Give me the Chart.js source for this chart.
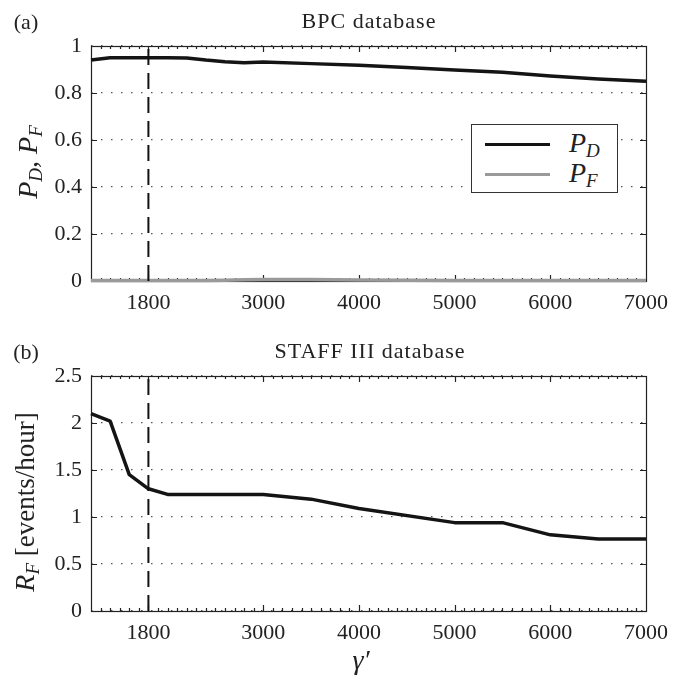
<!DOCTYPE html>
<html>
<head>
<meta charset="utf-8">
<script src="https://cdn.jsdelivr.net/npm/chart.js@4.4.1/dist/chart.umd.min.js"></script>
<style>
  body { margin: 0; background: #fff; }
  #wrap { position: relative; width: 686px; height: 680px; font-family: "Liberation Serif", serif; color: #222; }
  canvas { position: absolute; left: 0; }
  .t { position: absolute; transform: translate(-50%, -50%); white-space: nowrap; }
  .rot { transform: translate(-50%, -50%) rotate(-90deg); }
  .panel { font-size: 22px; }
  .titulo { font-size: 22px; letter-spacing: 1px; }
  .m { font-style: italic; font-size: 28px; }
  .m sub { font-size: 19px; vertical-align: -5px; }
  #legenda { position: absolute; left: 471px; top: 124px; width: 147px; height: 69px; border: 1px solid #333; background: #fff; box-sizing: border-box; }
  .item { position: absolute; left: 13px; height: 30px; display: flex; align-items: center; }
  .amostra { width: 65px; height: 3px; margin-right: 19px; }
</style>
</head>
<body>
<div id="wrap">
  <canvas id="grafico-a" width="686" height="330" style="top:0"></canvas>
  <canvas id="grafico-b" width="686" height="350" style="top:330px"></canvas>

  <div class="t panel" style="left:26px; top:22px">(a)</div>
  <div class="t titulo" style="left:369px; top:21px">BPC database</div>
  <div class="t rot m" style="left:29px; top:162px"><i>P</i><sub>D</sub>, <i>P</i><sub>F</sub></div>

  <div class="t panel" style="left:26px; top:352px">(b)</div>
  <div class="t titulo" style="left:370px; top:351px">STAFF III database</div>
  <div class="t rot" style="left:26px; top:502px; font-size:27px"><span class="m"><i>R</i><sub>F</sub></span> [events/hour]</div>

  <div class="t m" style="left:361px; top:660px">γ′</div>

  <div id="legenda"></div>
</div>

<script>
// limites do eixo x e ticks
const limiteX = [1200, 7000];
const ticksX = [1800, 3000, 4000, 5000, 6000, 7000];
const limiarGama = 1800;

// painel (a) - BPC
const gamaA = [1200, 1400, 1600, 1800, 2000, 2200, 2400, 2600, 2800, 3000, 3500, 4000, 4500, 5000, 5500, 6000, 6500, 7000];
const valoresPD = [0.940, 0.950, 0.950, 0.950, 0.950, 0.949, 0.940, 0.933, 0.929, 0.932, 0.925, 0.918, 0.908, 0.898, 0.888, 0.872, 0.860, 0.850];
const valoresPF = [0.002, 0.002, 0.002, 0.002, 0.002, 0.002, 0.002, 0.003, 0.005, 0.006, 0.006, 0.004, 0.003, 0.002, 0.002, 0.002, 0.002, 0.002];
const ticksYA = [0, 0.2, 0.4, 0.6, 0.8, 1];
const rotulosYA = ['0', '0.2', '0.4', '0.6', '0.8', '1'];

// painel (b) - STAFF III
const gamaB = [1200, 1400, 1600, 1800, 2000, 3000, 3500, 4000, 5000, 5500, 6000, 6500, 7000];
const valoresRF = [2.10, 2.02, 1.45, 1.30, 1.24, 1.24, 1.19, 1.09, 0.94, 0.94, 0.81, 0.765, 0.765];
const ticksYB = [0, 0.5, 1, 1.5, 2, 2.5];
const rotulosYB = ['0', '0.5', '1', '1.5', '2', '2.5'];

const corPD = '#141414';
const corPF = '#9a9a9a';

Chart.defaults.font.family = '"Liberation Serif", serif';
Chart.defaults.font.size = 22;
Chart.defaults.color = '#222';

const pontos = (xs, ys) => xs.map((x, i) => ({ x, y: ys[i] }));

// moldura com ticks internos (maiores e menores)
const moldura = {
  id: 'moldura',
  beforeDatasetsDraw(chart) {
    const { ctx, chartArea: a, scales: { x, y } } = chart;
    ctx.save();
    ctx.strokeStyle = '#222';
    ctx.lineWidth = 1.2;
    ctx.strokeRect(Math.round(a.left) + 0.5, Math.round(a.top) + 0.5, Math.round(a.right - a.left), Math.round(a.bottom - a.top));
    ctx.beginPath();
    for (let v = limiteX[0] + 100; v < limiteX[1]; v += 100) {
      const px = Math.round(x.getPixelForValue(v)) + 0.5;
      const len = ticksX.includes(v) ? 6 : 3;
      ctx.moveTo(px, a.bottom); ctx.lineTo(px, a.bottom - len);
      ctx.moveTo(px, a.top); ctx.lineTo(px, a.top + len);
    }
    y.ticks.forEach(t => {
      const py = Math.round(y.getPixelForValue(t.value)) + 0.5;
      ctx.moveTo(a.left, py); ctx.lineTo(a.left + 6, py);
      ctx.moveTo(a.right, py); ctx.lineTo(a.right - 6, py);
    });
    ctx.stroke();
    ctx.restore();
  }
};

function opcoes(ticksY, rotulosY, maxY, baixo) {
  return {
    responsive: false,
    animation: false,
    layout: { padding: { left: 0, right: 40, top: 46, bottom: baixo } },
    plugins: { legend: { display: false }, tooltip: { enabled: false } },
    elements: { point: { radius: 0 }, line: { tension: 0, borderCapStyle: 'butt', borderJoinStyle: 'round' } },
    scales: {
      x: {
        type: 'linear', min: limiteX[0], max: limiteX[1],
        grid: { display: false },
        border: { display: false },
        ticks: { padding: 1, maxRotation: 0, autoSkip: false, callback: v => String(v) },
        afterBuildTicks: s => { s.ticks = ticksX.map(v => ({ value: v })); },
        afterFit: s => { s.height = 49; }
      },
      y: {
        min: 0, max: maxY,
        grid: { color: '#555', lineWidth: 1.2, drawTicks: false },
        border: { display: false, dash: [1.5, 8.5] },
        ticks: { padding: 9, callback: v => rotulosY[ticksY.indexOf(v)] },
        afterBuildTicks: s => { s.ticks = ticksY.map(v => ({ value: v })); },
        afterFit: s => { s.width = 91; }
      }
    }
  };
}

new Chart(document.getElementById('grafico-a'), {
  type: 'line',
  plugins: [moldura],
  data: {
    datasets: [
      { label: 'limiar', data: pontos([limiarGama, limiarGama], [0, 1]), borderColor: '#111', borderWidth: 2, borderDash: [16, 8], clip: false },
      { label: 'PF', data: pontos(gamaA, valoresPF), borderColor: corPF, borderWidth: 3.5, clip: false },
      { label: 'PD', data: pontos(gamaA, valoresPD), borderColor: corPD, borderWidth: 3.5, clip: false }
    ]
  },
  options: opcoes(ticksYA, rotulosYA, 1, 0)
});

new Chart(document.getElementById('grafico-b'), {
  type: 'line',
  plugins: [moldura],
  data: {
    datasets: [
      { label: 'limiar', data: pontos([limiarGama, limiarGama], [0, 2.5]), borderColor: '#111', borderWidth: 2, borderDash: [16, 8], clip: false },
      { label: 'RF', data: pontos(gamaB, valoresRF), borderColor: corPD, borderWidth: 3.5, clip: false }
    ]
  },
  options: opcoes(ticksYB, rotulosYB, 2.5, 20)
});

// legenda do painel (a)
const legenda = document.getElementById('legenda');
[['D', corPD, 4], ['F', corPF, 34]].forEach(([sub, cor, topo]) => {
  const item = document.createElement('div');
  item.className = 'item';
  item.style.top = topo + 'px';
  item.innerHTML = `<span class="amostra" style="background:${cor}"></span><span class="m"><i>P</i><sub>${sub}</sub></span>`;
  legenda.appendChild(item);
});
</script>
</body>
</html>
